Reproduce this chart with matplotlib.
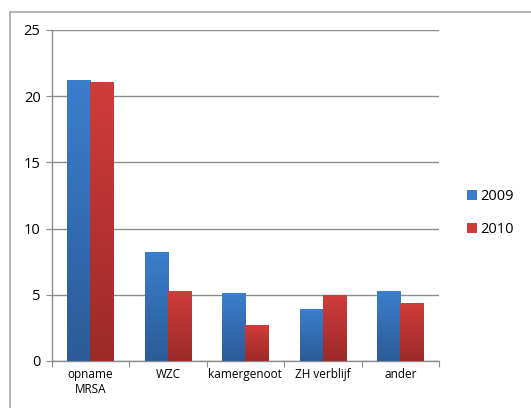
import numpy as np
import matplotlib
matplotlib.use('Agg')
import matplotlib.pyplot as plt
from matplotlib.patches import Rectangle
from matplotlib.colors import LinearSegmentedColormap

categories = ["opname\nMRSA", "WZC", "kamergenoot", "ZH verblijf", "ander"]
years = ["2009", "2010"]
values_2009 = [21.2, 8.2, 5.1, 3.9, 5.25]
values_2010 = [21.05, 5.25, 2.7, 5.0, 4.35]

plt.rcParams['font.family'] = ['Open Sans', 'DejaVu Sans']

fig = plt.figure(figsize=(5.31, 4.08), dpi=100)
ax = fig.add_axes([0.0974, 0.1152, 0.7293, 0.8118])

# grijze rand om de grafiek (loopt door buiten beeld)
fig.patches.append(Rectangle((10 / 531, -0.1), 1.2, 1 - 12 / 408 + 0.1,
                             transform=fig.transFigure, fill=False,
                             edgecolor='#a6a6a6', linewidth=1.2))

x = np.arange(len(categories))
w = 0.3
b1 = ax.bar(x - w / 2, values_2009, w, color='#3a7cca', label=years[0], zorder=3)
b2 = ax.bar(x + w / 2, values_2010, w, color='#cc3b38', label=years[1], zorder=3)

# verloop in de balken, per balk van onder naar boven
cm_blue = LinearSegmentedColormap.from_list('b', ['#2c5b98', '#3b7ecd'])
cm_red = LinearSegmentedColormap.from_list('r', ['#9c2a29', '#d03c3a'])
grad = np.linspace(0, 1, 256).reshape(-1, 1)
for bars, cm in ((b1, cm_blue), (b2, cm_red)):
    for bar in bars:
        x0, bw, bh = bar.get_x(), bar.get_width(), bar.get_height()
        im = ax.imshow(grad, cmap=cm, origin='lower', extent=(x0, x0 + bw, 0, bh),
                       aspect='auto', zorder=4, vmin=0, vmax=1)
        im.set_clip_path(bar)

ax.set_xlim(-0.5, len(categories) - 0.5)
ax.set_ylim(0, 25)
ax.set_yticks([0, 5, 10, 15, 20, 25])
ax.yaxis.grid(True, color='#8c8c8c', linewidth=1.0, zorder=0)
ax.set_axisbelow(True)

ax.set_xticks(np.arange(len(categories) + 1) - 0.5)
ax.set_xticklabels([])
ax.set_xticks(x, minor=True)
ax.set_xticklabels(categories, minor=True, fontsize=8.5)
ax.tick_params(axis='x', which='minor', length=0, pad=5)
ax.tick_params(axis='x', which='major', length=4, color='#8c8c8c', direction='out')
ax.tick_params(axis='y', length=4, color='#8c8c8c', labelsize=10.5, pad=4)

for s in ('top', 'right'):
    ax.spines[s].set_visible(False)
for s in ('left', 'bottom'):
    ax.spines[s].set_color('#8c8c8c')
    ax.spines[s].set_linewidth(1.0)

fig.legend(handles=[b1, b2], labels=years, loc='center left',
           bbox_to_anchor=(0.855, 0.478), frameon=False, fontsize=10.5,
           handlelength=0.7, handleheight=0.7, handletextpad=0.2,
           labelspacing=1.2)

fig.savefig('out.png', dpi=100)
